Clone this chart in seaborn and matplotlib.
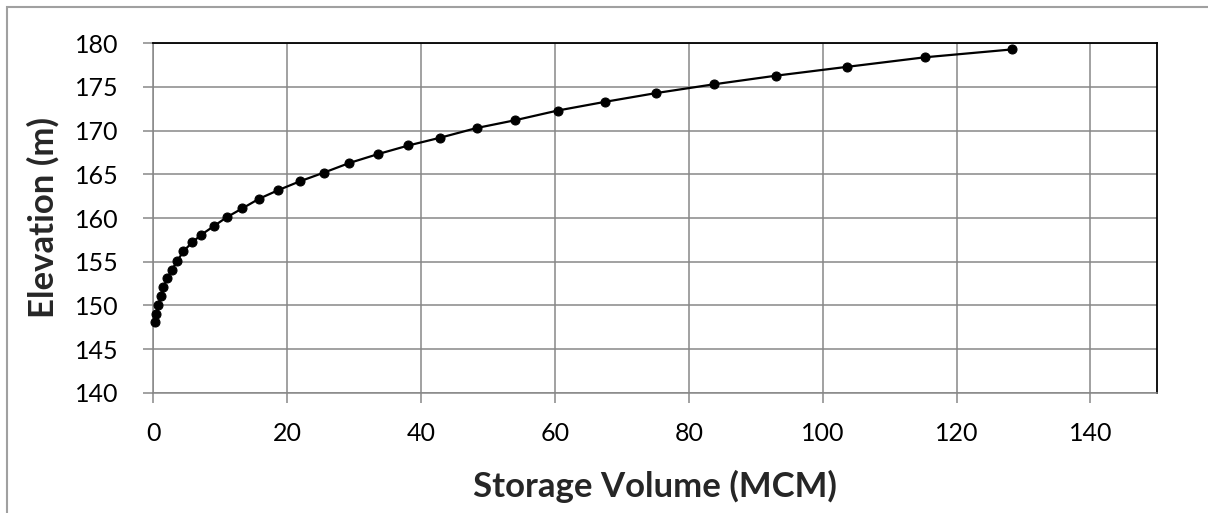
import matplotlib
matplotlib.use("Agg")
import matplotlib.pyplot as plt
import seaborn as sns
import pandas as pd
from matplotlib.patches import Rectangle

# Data
volume_mcm = [0.25, 0.4, 0.75, 1.1, 1.5, 2.1, 2.8, 3.6, 4.5, 5.8, 7.2, 9.1, 11.0, 13.3,
              15.8, 18.7, 21.9, 25.5, 29.3, 33.5, 38.1, 42.9, 48.3, 54.1, 60.4, 67.5,
              75.1, 83.7, 93.1, 103.6, 115.3, 128.3]
elevation_m = [148.1, 149.0, 150.0, 151.1, 152.1, 153.1, 154.1, 155.1, 156.2, 157.2,
               158.1, 159.1, 160.1, 161.1, 162.2, 163.2, 164.2, 165.2, 166.3, 167.3,
               168.3, 169.2, 170.3, 171.2, 172.3, 173.3, 174.3, 175.3, 176.3, 177.3,
               178.4, 179.3]
x_ticks = [0, 20, 40, 60, 80, 100, 120, 140]
y_ticks = [140, 145, 150, 155, 160, 165, 170, 175, 180]

sns.set_style("white")
plt.rcParams['font.family'] = ['Lato', 'DejaVu Sans']

df = pd.DataFrame({"Storage Volume (MCM)": volume_mcm, "Elevation (m)": elevation_m})

fig = plt.figure(figsize=(12.08, 5.13), dpi=100)
ax = fig.add_axes([153.3 / 1208, (513 - 392.7) / 513, (1157.3 - 153.3) / 1208, (392.7 - 43.3) / 513])

grid_c = "#878787"
ax.set_xlim(0, 150)
ax.set_ylim(140, 180)
ax.set_xticks(x_ticks)
ax.set_yticks(y_ticks)
ax.grid(True, color=grid_c, linewidth=1.1)
ax.set_axisbelow(True)

sns.lineplot(data=df, x="Storage Volume (MCM)", y="Elevation (m)", ax=ax, sort=False,
             estimator=None, color="black", linewidth=1.6, marker="o", markersize=6.5,
             markeredgecolor="black", markerfacecolor="black", zorder=3, clip_on=False)

for s in ["left", "bottom"]:
    ax.spines[s].set_color(grid_c)
    ax.spines[s].set_linewidth(1.1)
for s in ["top", "right"]:
    ax.spines[s].set_color("black")
    ax.spines[s].set_linewidth(1.3)

ax.tick_params(axis="both", which="major", direction="out", length=7, width=1.1,
               color=grid_c, labelsize=18, labelcolor="black")
ax.tick_params(axis="y", pad=18)
ax.tick_params(axis="x", pad=14)
ax.tick_params(bottom=True, left=True)

ax.set_xlabel("Storage Volume (MCM)", fontsize=25, fontweight="bold", labelpad=18)
ax.set_ylabel("Elevation (m)", fontsize=25, fontweight="bold", labelpad=11)

fig.patches.append(Rectangle((6.5 / 1208, -0.05), 1.02, (506.5 / 513) + 0.05,
                             transform=fig.transFigure, fill=False,
                             edgecolor="#a0a0a0", linewidth=1.5, zorder=0))

fig.savefig("out.png", dpi=100)
